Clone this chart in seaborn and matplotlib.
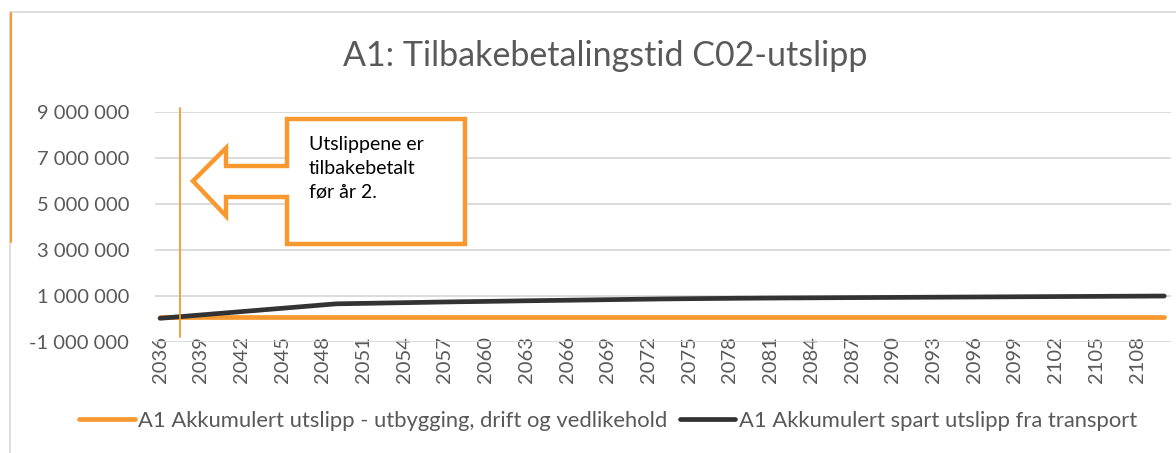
import numpy as np
import pandas as pd
import seaborn as sns
from matplotlib import pyplot as plt
from matplotlib.lines import Line2D
from matplotlib.patches import Polygon
from matplotlib.ticker import FuncFormatter

# --- data (tonnes CO2, accumulated) ---
years = list(range(2036, 2111))

utslipp_bygg = [
    70000, 70000, 70000, 70000, 70000, 70000, 70000, 70000, 70000, 70000, 70000, 70000, 70000, 70000, 70000,
    70000, 70000, 70000, 70000, 70000, 70000, 70000, 70000, 70000, 70000, 70000, 70000, 70000, 70000, 70000,
    70000, 70000, 70000, 70000, 70000, 70000, 70000, 70000, 70000, 70000, 70000, 70000, 70000, 70000, 70000,
    70000, 70000, 70000, 70000, 70000, 70000, 70000, 70000, 70000, 70000, 70000, 70000, 70000, 70000, 70000,
    70000, 70000, 70000, 70000, 70000, 70000, 70000, 70000, 70000, 70000, 70000, 70000, 70000, 70000, 70000,
]

spart_transport = [
    30000, 78000, 127000, 175000, 224000, 272000, 321000, 369000, 418000, 466000, 515000, 563000, 612000, 660000,
    670000, 680000, 690000, 700000, 710000, 720000, 730000, 740000, 750000, 757000, 765000,
    774000, 783000, 792000, 800000, 808000, 816000, 824000, 832000, 840000, 848000,
    856000, 864000, 872000, 878000, 884000, 889000, 894000, 899000, 903000, 907000,
    911000, 915000, 918000, 921000, 924000, 927000, 930000, 933000, 936000, 939000,
    942000, 945000, 948000, 951000, 954000, 957000, 960000, 963000, 966000, 969000,
    972000, 975000, 978000, 981000, 984000, 987000, 990000, 993000, 996000, 999000,
]

serie_names = ['A1 Akkumulert utslipp - utbygging, drift og vedlikehold',
               'A1 Akkumulert spart utslipp fra transport']
y_ticks = [-1000000, 1000000, 3000000, 5000000, 7000000, 9000000]
x_ticks = list(range(2036, 2109, 3))

title = 'A1: Tilbakebetalingstid C02-utslipp'
callout_text = 'Utslippene er\ntilbakebetalt\nfør år 2.'

# colours
orange = '#F7992F'
dark = '#333333'
grid_grey = '#D9D9D9'
text_grey = '#595959'

df = pd.DataFrame({'year': years * 2,
                   'value': utslipp_bygg + spart_transport,
                   'serie': [serie_names[0]] * len(years) + [serie_names[1]] * len(years)})

sns.set_theme(style='white')
plt.rcParams['font.family'] = ['Lato', 'DejaVu Sans']

W, H = 1176, 453
fig = plt.figure(figsize=(W / 100, H / 100), dpi=100)
ax = fig.add_axes([155 / W, 1 - 342 / H, (1171 - 155) / W, (342 - 112) / H])

sns.lineplot(data=df, x='year', y='value', hue='serie', palette=[orange, dark],
             linewidth=3.4, ax=ax, legend=False, solid_capstyle='round', zorder=3)

ax.set_xlim(2035.63, 2110.5)
ax.set_ylim(-1000000, 9000000)
ax.set_yticks(y_ticks)
ax.set_xticks(x_ticks)
ax.yaxis.set_major_formatter(FuncFormatter(lambda v, p: "{:,.0f}".format(v).replace(',', ' ')))
ax.set_xticklabels([str(x) for x in x_ticks], rotation=90)
ax.tick_params(axis='y', length=0, pad=18.5, labelsize=14.5, labelcolor=text_grey)
ax.tick_params(axis='x', length=0, pad=-4, labelsize=14.5, labelcolor=text_grey)
ax.set_xlabel('')
ax.set_ylabel('')
ax.grid(axis='y', color=grid_grey, linewidth=1.3)
ax.grid(axis='x', visible=False)
for s in ax.spines.values():
    s.set_visible(False)

# title
fig.text(605 / W, 1 - 56 / H, title, ha='center', va='center', fontsize=24.5, color=text_grey)

# legend
handles = [Line2D([0], [0], color=orange, lw=3.4, solid_capstyle='round'),
           Line2D([0], [0], color=dark, lw=3.4, solid_capstyle='round')]
fig.legend(handles, serie_names, loc='center', bbox_to_anchor=(608 / W, 1 - 421 / H), ncol=2,
           frameon=False, fontsize=15.8, labelcolor=text_grey, handlelength=2.55,
           handletextpad=0.15, columnspacing=0.55)

# chart border (Excel chart area) and stray orange marks
fig.add_artist(Line2D([10 / W, 1], [1 - 12 / H, 1 - 12 / H], color=grid_grey, lw=1.2))
fig.add_artist(Line2D([10 / W, 10 / W], [0, 1 - 12 / H], color=grid_grey, lw=1.2))
fig.add_artist(Line2D([11 / W, 11 / W], [1 - 242 / H, 1 - 13 / H], color=orange, lw=1.5))
fig.add_artist(Line2D([180 / W, 180 / W], [1 - 337 / H, 1 - 108 / H], color=orange, lw=1.3, zorder=5))

# left arrow callout
pts = [(287, 119), (465, 119), (465, 244), (287, 244), (287, 197), (226, 197), (226, 216),
       (193, 181), (226, 148), (226, 166), (287, 166)]
callout = Polygon([(x / W, 1 - y / H) for x, y in pts], closed=True, facecolor='white',
                  edgecolor=orange, linewidth=3.2, joinstyle='miter', transform=fig.transFigure, zorder=6)
fig.add_artist(callout)
fig.text(309 / W, 1 - 136 / H, callout_text, ha='left', va='top', fontsize=14, color='black',
         linespacing=1.5, zorder=7)

plt.savefig('out.png', dpi=100)
